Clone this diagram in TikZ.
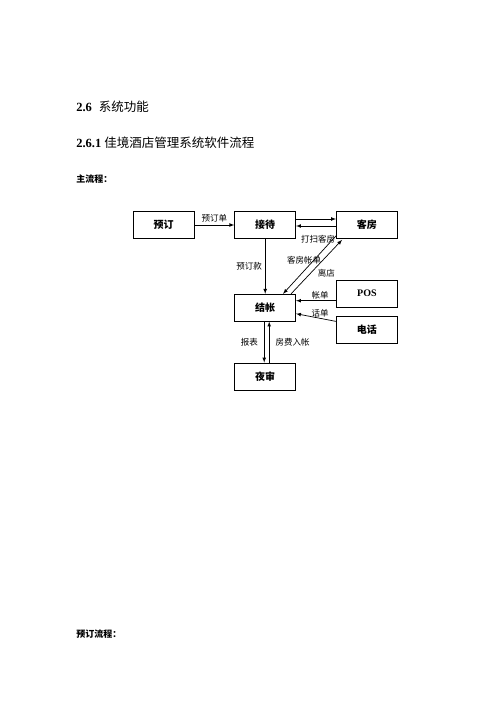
\documentclass[tikz,border=0pt]{standalone}
\usepackage{fontspec}
\setmainfont{Liberation Serif}
\newfontfamily\cjk{Noto Sans CJK SC}
\usetikzlibrary{positioning}
\newcommand{\zh}[1]{{\cjk #1}}

\begin{document}
\begin{tikzpicture}[x=1pt,y=-1pt,>=latex,line width=0.7pt,
    mybox/.style={minimum width=61pt,minimum height=27pt,draw,align=center,font=\fontsize{10}{12}\selectfont\bfseries\cjk},
    mylabel/.style={font=\fontsize{8.5}{10}\selectfont\cjk,inner sep=1pt},
    myhead/.style={anchor=west,inner sep=0pt}]
        \useasboundingbox (0,0) rectangle (500,707);
        % headings
        \node[myhead,font=\fontsize{12.5}{15}\selectfont] (H1) at (76,107) {\textbf{2.6}\hspace{7pt}\zh{系统功能}};
        \node[myhead,font=\fontsize{12.5}{15}\selectfont] (H2) at (76,143) {\textbf{2.6.1} \zh{佳境酒店管理系统软件流程}};
        \node[myhead,font=\fontsize{9}{11}\selectfont\bfseries\cjk] (ZLC) at (76,179) {主流程：};
        \node[myhead,font=\fontsize{9}{11}\selectfont\bfseries\cjk] (YDLC) at (76,634) {预订流程：};
        % boxes
        \node[mybox] (YD) at (163.5,225) {预订};
        \node[mybox,right=40pt of YD] (JD) {接待};
        \node[mybox,right=40pt of JD] (KF) {客房};
        \node[mybox,below=55pt of JD] (JZ) {结帐};
        \node[mybox,below=41pt of JZ] (YS) {夜审};
        \node[mybox,below=41pt of KF,font=\fontsize{10}{12}\selectfont\bfseries] (POS) {POS};
        \node[mybox,below=8pt of POS] (DH) {电话};
        % arrows
        \draw[->] (YD) -- node[mylabel,above=1pt] {预订单} (JD);
        \draw[->] ([yshift=6pt]JD.east) -- ([yshift=6pt]KF.west);
        \draw[<-] ([yshift=-1pt]JD.east) -- node[mylabel,below=8pt,pos=0.55] {打扫客房} ([yshift=-1pt]KF.west);
        \draw[->] (JD) -- node[mylabel,left=2pt] {预订款} (JZ);
        \draw[->] ([yshift=3pt]KF.south west) -- node[mylabel,pos=0.45,xshift=-8pt,yshift=2pt] {客房帐单} ([xshift=-13pt]JZ.north east);
        \draw[->] ([xshift=-5pt]JZ.north east) -- node[mylabel,right=6pt,pos=0.38] {离店} ([xshift=6pt,yshift=-1pt]KF.south west);
        \draw[->] ([yshift=-7pt]POS.west) -- node[mylabel,above,pos=0.4] {帐单} ([yshift=7pt]JZ.east);
        \draw[->] ([yshift=8pt]DH.west) -- node[mylabel,above,pos=0.4] {话单} ([yshift=-6pt]JZ.east);
        \draw[->] ([xshift=-1pt]JZ.south) -- node[mylabel,left=5pt] {报表} ([xshift=-1pt]YS.north);
        \draw[->] ([xshift=4pt]YS.north) -- node[mylabel,right=5pt] {房费入帐} ([xshift=4pt]JZ.south);
\end{tikzpicture}
\end{document}
